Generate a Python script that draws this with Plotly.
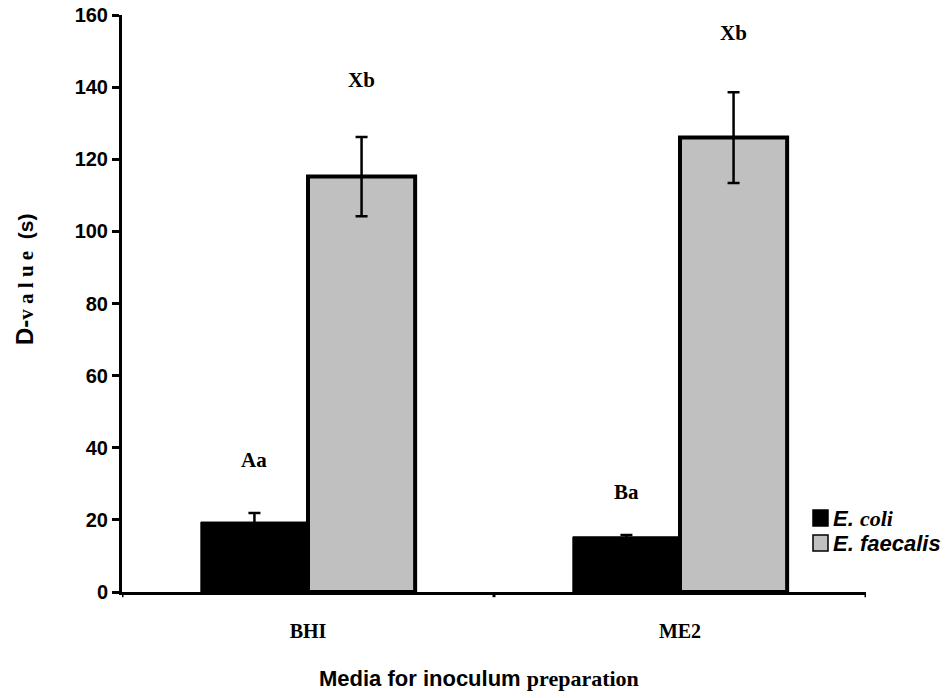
import plotly.graph_objects as go

categories = ["BHI", "ME2"]
series_names = ["E. coli", "E. faecalis"]
ecoli_vals = [19.4, 15.3]
ecoli_err = [2.5, 0.5]
faec_vals = [115.2, 126.0]
faec_err = [11.0, 12.6]
sig_labels = ["Aa", "Xb", "Ba", "Xb"]
label_y = [36.6, 142.0, 27.7, 155.0]

BARGAP = 0.424
SANS = "Liberation Sans, Arial, sans-serif"
SERIF = "Liberation Serif, Times New Roman, serif"
GRAY = "#c0c0c0"

W, H = 949, 698
L, T = 122, 15
PW, PH = 744, 577
R, B = W - L - PW, H - T - PH


def px_x(p):
    return (p - L) / PW


def px_y(p):
    return (T + PH - p) / PH


fig = go.Figure()
fig.add_trace(go.Bar(
    x=[0, 1], y=ecoli_vals, name=series_names[0], showlegend=False,
    marker=dict(color="black", line=dict(color="black", width=1)),
    error_y=dict(type="data", array=ecoli_err, color="black", thickness=2.5, width=6),
))
fig.add_trace(go.Bar(
    x=[0, 1], y=faec_vals, name=series_names[1], showlegend=False,
    marker=dict(color=GRAY, line=dict(color="black", width=4)),
    error_y=dict(type="data", array=faec_err, color="black", thickness=2.5, width=6),
))

off = (1 - BARGAP) / 4
xs = [0 - off, 0 + off, 1 - off, 1 + off]
for xv, yv, t in zip(xs, label_y, sig_labels):
    fig.add_annotation(x=xv, y=yv, xref="x", yref="y", text="<b>" + t + "</b>",
                       showarrow=False, font=dict(family=SERIF, size=21, color="black"))

# manual legend
leg_items = [
    ("black", "<b><i>E. </i></b><span style='font-family:Liberation Serif'><b><i>coli</i></b></span>", 518),
    (GRAY, "<b><i>E. faecalis</i></b>", 543),
]
for col, txt, cy in leg_items:
    fig.add_shape(type="rect", xref="paper", yref="paper",
                  x0=px_x(813), x1=px_x(828), y0=px_y(cy + 8), y1=px_y(cy - 8),
                  fillcolor=col, line=dict(color="black", width=1.5))
    fig.add_annotation(x=px_x(831), y=px_y(cy), xref="paper", yref="paper",
                       xanchor="left", yanchor="middle", text=txt, showarrow=False,
                       font=dict(family=SANS, size=22, color="black"))

# axis titles
fig.add_annotation(
    x=px_x(24), y=px_y(279), xref="paper", yref="paper", textangle=-90,
    xanchor="center", yanchor="middle",
    text="<span style='font-size:24px'><b>D-</b></span><span style='font-family:Liberation Serif'><b>v a l u e</b></span><b>&nbsp;&nbsp;(s)</b>",
    showarrow=False, font=dict(family=SANS, size=21, color="black"))
fig.add_annotation(
    x=px_x(479), y=px_y(678), xref="paper", yref="paper",
    xanchor="center", yanchor="middle",
    text="<b>Media for inoculum </b><span style='font-family:Liberation Serif'><b>preparation</b></span>",
    showarrow=False, font=dict(family=SANS, size=22, color="black"))

fig.update_layout(
    width=W, height=H,
    margin=dict(l=L, r=R, t=T, b=B, autoexpand=False),
    paper_bgcolor="white", plot_bgcolor="white",
    barmode="group", bargap=BARGAP, bargroupgap=0,
    font=dict(family=SANS, color="black"),
    showlegend=False,
    xaxis=dict(
        range=[-0.5, 1.5], tickmode="array", tickvals=[0, 1],
        ticktext=["<b>" + c + "</b>" for c in categories],
        tickfont=dict(family=SERIF, size=20, color="black"),
        showline=True, linecolor="black", linewidth=3,
        showgrid=False, zeroline=False, ticks="", ticklabelstandoff=19,
        automargin=False,
    ),
    yaxis=dict(
        range=[0, 160], dtick=20, tick0=0,
        tickfont=dict(family=SANS, size=20, color="black"),
        tickprefix="<b>", ticksuffix="</b>",
        showline=True, linecolor="black", linewidth=3,
        ticks="outside", ticklen=7, tickwidth=3, tickcolor="black",
        showgrid=False, zeroline=False, automargin=False,
        ticklabeloverflow="allow",
    ),
)

# category boundary ticks on x axis
for xb in [-0.5, 0.5, 1.5]:
    fig.add_shape(type="line", xref="x", yref="paper", x0=xb, x1=xb, y0=0, y1=-0.009,
                  line=dict(color="black", width=3))

fig.write_html("out.html", config={"displayModeBar": False},
               post_script="document.body.style.margin='0';")
